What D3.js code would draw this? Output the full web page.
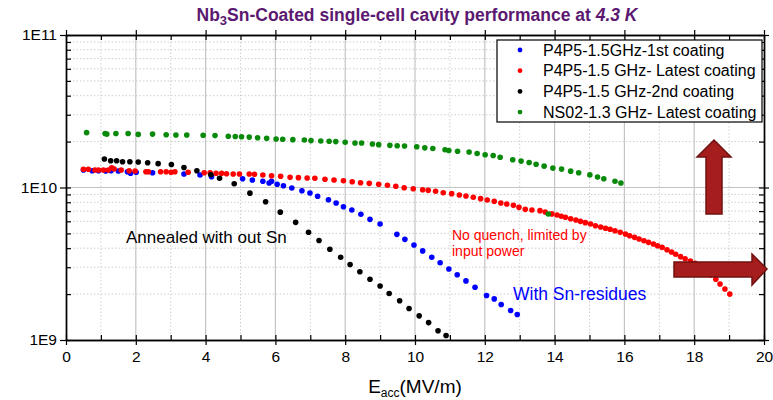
<!DOCTYPE html>
<html>
<head>
<meta charset="utf-8">
<script src="https://cdn.jsdelivr.net/npm/d3@7"></script>
<style>
  body { margin: 0; background: #fff; }
  svg { display: block; font-family: "Liberation Sans", Arial, sans-serif; }
</style>
</head>
<body>
<div id="chart"></div>
<script>
// Q0 values are given in units of 1E10
const xTicks = [0, 2, 4, 6, 8, 10, 12, 14, 16, 18, 20];
const yMajor = [1e9, 1e10, 1e11];

const seriesNames = [
  'P4P5-1.5GHz-1st coating',
  'P4P5-1.5 GHz- Latest coating',
  'P4P5-1.5 GHz-2nd coating',
  'NS02-1.3 GHz- Latest coating'
];
const seriesColors = ['#0000ff', '#ff0000', '#000000', '#0a8a0a'];

const eFirst = [0.50,0.75,0.93,1.14,1.29,1.50,1.76,1.85,2.01,2.48,3.38,3.84,4.17,5.06,5.34,5.64,5.82,5.89,6.05,6.23,
  6.47,6.76,6.99,7.21,7.52,7.74,7.95,8.19,8.45,8.71,9.00,9.48,9.71,9.97,10.22,10.48,10.72,10.97,11.21,11.46,
  11.72,12.05,12.27,12.47,12.74,12.93];
const qFirst = [1.303,1.289,1.289,1.283,1.289,1.283,1.269,1.239,1.258,1.250,1.226,1.208,1.177,1.142,1.120,1.098,1.070,1.098,1.050,1.027,
  0.992,0.953,0.920,0.877,0.831,0.792,0.748,0.712,0.667,0.618,0.576,0.493,0.457,0.420,0.384,0.349,0.321,0.292,0.268,0.244,
  0.222,0.196,0.186,0.171,0.156,0.147];

const eLatest = [0.50,0.64,0.83,0.93,1.07,1.21,1.31,1.38,1.58,1.81,
  1.98,2.29,2.36,2.71,2.87,3.01,3.12,3.50,3.96,4.13,
  4.30,4.46,4.60,4.79,4.97,5.25,5.40,5.64,5.89,6.15,
  6.42,6.66,6.91,7.13,7.42,7.68,7.95,8.20,8.44,8.69,
  8.96,9.21,9.45,9.69,9.95,10.22,10.38,10.59,10.81,11.05,
  11.27,11.46,11.67,11.88,12.07,12.27,12.46,12.63,12.82,12.98,
  13.16,13.35,13.58,13.73,13.92,14.07,14.19,14.31,14.46,14.61,
  14.74,14.88,15.03,15.17,15.32,15.46,15.59,15.73,15.88,16.03,
  16.15,16.29,16.42,16.56,16.69,16.83,16.95,17.08,17.22,17.35,
  17.47,17.61,17.74,17.89,18.03,18.18,18.32,18.47,18.62,18.74,
  18.88,19.02];
const qLatest = [1.316,1.316,1.303,1.303,1.303,1.303,1.348,1.322,1.303,1.289,
  1.283,1.269,1.269,1.269,1.269,1.258,1.269,1.258,1.250,1.250,
  1.239,1.239,1.232,1.226,1.226,1.226,1.221,1.208,1.195,1.184,
  1.166,1.160,1.154,1.149,1.132,1.120,1.108,1.091,1.075,1.065,
  1.050,1.034,1.018,0.997,0.982,0.967,0.958,0.944,0.924,0.911,
  0.893,0.880,0.863,0.845,0.828,0.812,0.792,0.780,0.764,0.741,
  0.719,0.712,0.705,0.691,0.671,0.660,0.648,0.638,0.624,0.612,
  0.600,0.588,0.576,0.561,0.551,0.540,0.532,0.521,0.508,0.496,
  0.483,0.471,0.459,0.448,0.437,0.426,0.415,0.405,0.391,0.378,
  0.365,0.352,0.341,0.330,0.318,0.302,0.285,0.267,0.250,0.233,
  0.216,0.200];

const eSecond = [1.10,1.28,1.45,1.62,1.83,2.07,2.34,2.64,3.02,3.38,3.75,4.15,4.40,4.82,5.27,5.72,6.14,6.58,6.95,7.25,
  7.56,7.87,8.14,8.42,8.71,9.00,9.26,9.56,9.83,10.12,10.39,10.66,10.89];
const qSecond = [1.538,1.499,1.499,1.476,1.476,1.470,1.454,1.433,1.415,1.352,1.289,1.213,1.149,1.058,0.918,0.806,0.689,0.591,0.509,0.449,
  0.394,0.349,0.313,0.280,0.250,0.226,0.202,0.181,0.161,0.144,0.130,0.115,0.107];

const eNS02 = [0.59,1.12,1.17,1.43,1.78,2.07,2.48,2.87,3.15,3.46,
  3.93,4.27,4.65,4.85,5.03,5.25,5.49,5.75,6.02,6.21,
  6.50,6.83,7.02,7.30,7.54,7.73,8.00,8.28,8.47,8.78,
  8.96,9.28,9.49,9.70,10.05,10.28,10.51,10.86,10.97,11.22,
  11.55,11.78,12.01,12.24,12.44,12.80,13.04,13.27,13.47,13.70,
  13.95,14.20,14.46,14.69,15.01,15.23,15.41,15.73,15.90,13.82];
const qNS02 = [2.29,2.26,2.24,2.26,2.26,2.23,2.24,2.22,2.21,2.21,
  2.20,2.19,2.17,2.16,2.15,2.14,2.12,2.10,2.08,2.07,
  2.06,2.05,2.03,2.02,2.01,2.00,1.98,1.96,1.96,1.93,
  1.91,1.89,1.88,1.87,1.85,1.82,1.80,1.77,1.75,1.73,
  1.71,1.67,1.64,1.62,1.58,1.52,1.49,1.46,1.42,1.38,
  1.34,1.32,1.28,1.25,1.21,1.17,1.14,1.10,1.07,0.67];

const seriesE = [eFirst, eLatest, eSecond, eNS02];
const seriesQ = [qFirst, qLatest, qSecond, qNS02];

const width = 773, height = 400;
const margin = { top: 35, right: 9, bottom: 60, left: 66 };

const svg = d3.select('#chart').append('svg')
  .attr('width', width)
  .attr('height', height);

const x = d3.scaleLinear().domain([0, 20]).range([margin.left, width - margin.right]);
const y = d3.scaleLog().domain([1e9, 1e11]).range([height - margin.bottom, margin.top]);

const xMinor = d3.range(1, 20, 2);
const yMinor = [];
[1e9, 1e10].forEach(base => { for (let k = 2; k <= 9; k++) yMinor.push(base * k); });

// grid
const grid = svg.append('g');
grid.selectAll('.vmaj').data(xTicks.slice(1, -1)).enter().append('line')
  .attr('x1', d => x(d)).attr('x2', d => x(d))
  .attr('y1', y(1e11)).attr('y2', y(1e9))
  .attr('stroke', '#c4c4c4').attr('stroke-width', 1.2);
grid.selectAll('.vmin').data(xMinor).enter().append('line')
  .attr('x1', d => x(d)).attr('x2', d => x(d))
  .attr('y1', y(1e11)).attr('y2', y(1e9))
  .attr('stroke', '#cfcfcf').attr('stroke-dasharray', '1.5,2');
grid.selectAll('.hmin').data(yMinor).enter().append('line')
  .attr('x1', x(0)).attr('x2', x(20))
  .attr('y1', d => y(d)).attr('y2', d => y(d))
  .attr('stroke', '#cfcfcf').attr('stroke-dasharray', '1.5,2');
grid.append('line')
  .attr('x1', x(0)).attr('x2', x(20))
  .attr('y1', y(1e10)).attr('y2', y(1e10))
  .attr('stroke', '#c4c4c4').attr('stroke-width', 1.2);

// axes: inner ticks (major + minor) and outer ticks (major, with labels)
const xAll = xTicks.concat(xMinor);
const yAll = yMajor.concat(yMinor);
const yFmt = d => '1E' + Math.round(Math.log10(d));

function styleAxis(g) {
  g.selectAll('path.domain').attr('stroke', '#000').attr('stroke-width', 1.4);
  g.selectAll('.tick line').attr('stroke', '#000').attr('stroke-width', 1.2);
  g.selectAll('.tick text').attr('fill', '#000').attr('font-size', 15.5)
    .attr('font-family', '"Liberation Sans", Arial, sans-serif');
}

const bottomY = y(1e9), topY = y(1e11), leftX = x(0), rightX = x(20);

svg.append('g').attr('transform', `translate(0,${bottomY})`)
  .call(d3.axisTop(x).tickValues(xAll).tickSize(5).tickFormat('').tickSizeOuter(0)).call(styleAxis);
svg.append('g').attr('transform', `translate(0,${bottomY})`)
  .call(d3.axisBottom(x).tickValues(xTicks).tickSize(5).tickPadding(6).tickSizeOuter(0)).call(styleAxis);
svg.append('g').attr('transform', `translate(0,${topY})`)
  .call(d3.axisBottom(x).tickValues(xAll).tickSize(5).tickFormat('').tickSizeOuter(0)).call(styleAxis);
svg.append('g').attr('transform', `translate(0,${topY})`)
  .call(d3.axisTop(x).tickValues(xTicks).tickSize(5).tickFormat('').tickSizeOuter(0)).call(styleAxis);

svg.append('g').attr('transform', `translate(${leftX},0)`)
  .call(d3.axisRight(y).tickValues(yAll).tickSize(5).tickFormat('').tickSizeOuter(0)).call(styleAxis);
svg.append('g').attr('transform', `translate(${leftX},0)`)
  .call(d3.axisLeft(y).tickValues(yMajor).tickSize(6).tickPadding(3).tickFormat(yFmt).tickSizeOuter(0)).call(styleAxis);
svg.append('g').attr('transform', `translate(${rightX},0)`)
  .call(d3.axisLeft(y).tickValues(yAll).tickSize(5).tickFormat('').tickSizeOuter(0)).call(styleAxis);
svg.append('g').attr('transform', `translate(${rightX},0)`)
  .call(d3.axisRight(y).tickValues(yMajor).tickSize(5).tickFormat('').tickSizeOuter(0)).call(styleAxis);

// data points
const plot = svg.append('g');
seriesE.forEach((es, i) => {
  const pts = es.map((e, j) => ({ e: e, q: seriesQ[i][j] * 1e10 }));
  plot.append('g').selectAll('circle').data(pts).enter().append('circle')
    .attr('cx', d => x(d.e))
    .attr('cy', d => y(d.q))
    .attr('r', 2.8)
    .attr('fill', seriesColors[i]);
});

// arrows
const arrowFill = '#a51d1d', arrowStroke = '#701010';
svg.append('path')
  .attr('d', 'M714,140 L731,157 L722,157 L722,214 L706,214 L706,157 L697,157 Z')
  .attr('fill', arrowFill).attr('stroke', arrowStroke).attr('stroke-width', 1.5);
svg.append('path')
  .attr('d', 'M674,262 L752,262 L752,254 L767,269 L752,285 L752,277 L674,277 Z')
  .attr('fill', arrowFill).attr('stroke', arrowStroke).attr('stroke-width', 1.5);

// legend
const legend = svg.append('g');
legend.append('rect')
  .attr('x', 497).attr('y', 40).attr('width', 265).attr('height', 82)
  .attr('fill', '#fff').attr('stroke', '#000').attr('stroke-width', 1.2);
seriesNames.forEach((name, i) => {
  const cy = 50 + i * 20.7;
  legend.append('circle').attr('cx', 520).attr('cy', cy).attr('r', 2.4).attr('fill', seriesColors[i]);
  legend.append('text').attr('x', 543).attr('y', cy + 5.5)
    .attr('font-size', 16).attr('fill', '#000').text(name);
});

// annotations
svg.append('text').attr('x', 126).attr('y', 243).attr('font-size', 17).attr('fill', '#000')
  .text('Annealed with out Sn');
svg.append('text').attr('x', 452).attr('y', 240).attr('font-size', 14).attr('fill', '#ff0000')
  .text('No quench, limited by');
svg.append('text').attr('x', 452).attr('y', 256).attr('font-size', 14).attr('fill', '#ff0000')
  .text('input power');
svg.append('text').attr('x', 513).attr('y', 300).attr('font-size', 17.5).attr('fill', '#0000ff')
  .text('With Sn-residues');

// title
const title = svg.append('text').attr('x', 417).attr('y', 21)
  .attr('text-anchor', 'middle').attr('fill', '#5b1870')
  .attr('font-weight', 'bold').attr('font-size', 17.5)
  .attr('font-family', '"Liberation Sans Narrow", "Arial Narrow", "Liberation Sans", sans-serif');
title.append('tspan').text('Nb');
title.append('tspan').attr('font-size', 13).attr('dy', 4).text('3');
title.append('tspan').attr('dy', -4).text('Sn-Coated single-cell cavity performance at ');
title.append('tspan').attr('font-style', 'italic').text('4.3 K');

// x axis title
const xt = svg.append('text').attr('x', 415).attr('y', 393)
  .attr('text-anchor', 'middle').attr('font-size', 19).attr('fill', '#000');
xt.append('tspan').text('E');
xt.append('tspan').attr('font-size', 12).attr('dy', 4).text('acc');
xt.append('tspan').attr('dy', -4).text('(MV/m)');
</script>
</body>
</html>
